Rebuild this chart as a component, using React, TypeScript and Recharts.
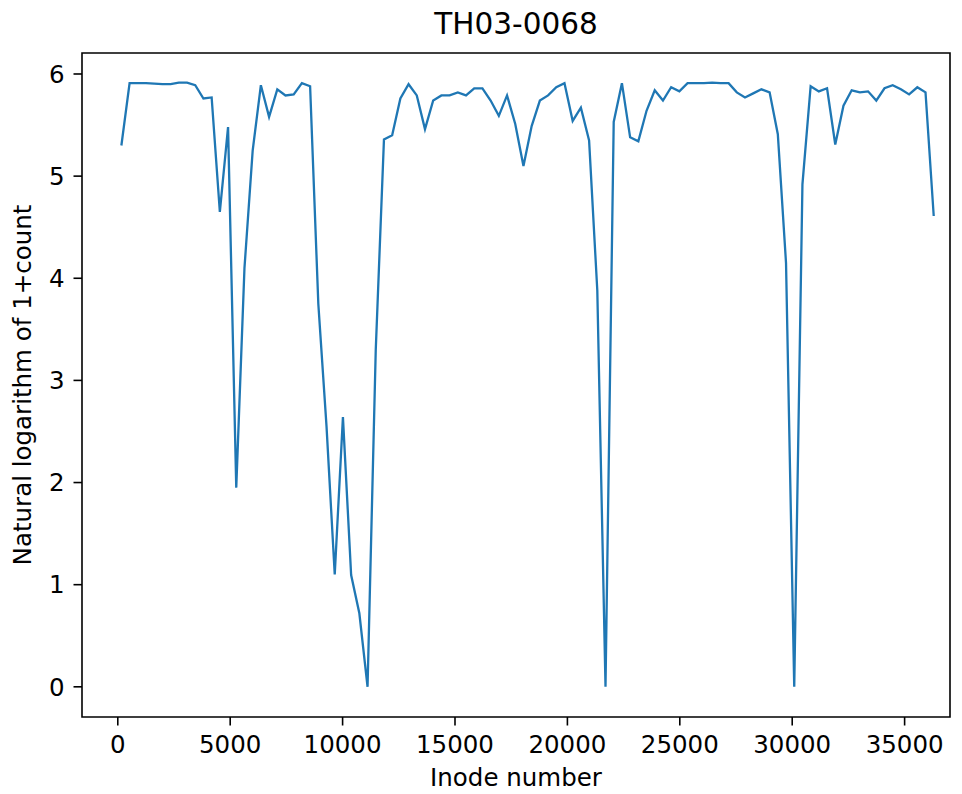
import React from "react";
import { LineChart, Line, XAxis, YAxis, ReferenceArea } from "recharts";

const inodes: number[] = [
  160, 525, 890, 1255, 1620, 1985, 2350, 2715, 3080, 3445,
  3810, 4175, 4540, 4905, 5270, 5635, 6000, 6365, 6730, 7095,
  7460, 7825, 8190, 8555, 8920, 9285, 9650, 10015, 10380, 10745,
  11110, 11475, 11840, 12205, 12570, 12935, 13300, 13665, 14030, 14395,
  14760, 15125, 15490, 15855, 16220, 16585, 16950, 17315, 17680, 18045,
  18410, 18775, 19140, 19505, 19870, 20235, 20600, 20965, 21330, 21695,
  22060, 22425, 22790, 23155, 23520, 23885, 24250, 24615, 24980, 25345,
  25710, 26075, 26440, 26805, 27170, 27535, 27900, 28265, 28630, 28995,
  29360, 29725, 30090, 30455, 30820, 31185, 31550, 31915, 32280, 32645,
  33010, 33375, 33740, 34105, 34470, 34835, 35200, 35565, 35930, 36295,
];

const logCounts: number[] = [
  5.3, 5.91, 5.91, 5.91, 5.905, 5.9, 5.9, 5.915, 5.915, 5.89,
  5.76, 5.77, 4.65, 5.48, 1.95, 4.1, 5.25, 5.89, 5.58, 5.85,
  5.79, 5.8, 5.91, 5.88, 3.75, 2.55, 1.1, 2.64, 1.095, 0.72,
  0.0, 3.3, 5.36, 5.4, 5.76, 5.9, 5.79, 5.46, 5.74, 5.79,
  5.79, 5.82, 5.79, 5.86, 5.86, 5.74, 5.59, 5.79, 5.51, 5.1,
  5.49, 5.74, 5.79, 5.87, 5.91, 5.54, 5.67, 5.35, 3.88, 0.0,
  5.53, 5.91, 5.38, 5.34, 5.64, 5.84, 5.74, 5.87, 5.83, 5.91,
  5.91, 5.91, 5.915, 5.91, 5.91, 5.82, 5.77, 5.81, 5.85, 5.82,
  5.41, 4.15, 0.0, 4.92, 5.88, 5.83, 5.86, 5.31, 5.69, 5.84,
  5.82, 5.83, 5.74, 5.86, 5.89, 5.85, 5.8, 5.87, 5.82, 4.61,
];

const xTicks: number[] = [0, 5000, 10000, 15000, 20000, 25000, 30000, 35000];
const yTicks: number[] = [0, 1, 2, 3, 4, 5, 6];

const title = "TH03-0068";
const xLabel = "Inode number";
const yLabel = "Natural logarithm of 1+count";

const data = inodes.map((x, i) => ({ inode: x, value: logCounts[i] }));

const X_DOMAIN: [number, number] = [-1592, 37019];
const Y_DOMAIN: [number, number] = [-0.2955, 6.2055];

const FONT = "'DejaVu Sans', sans-serif";
const tickStyle = { fill: "#000", fontSize: 24.5, fontFamily: FONT };

export default function App() {
  return (
    <div style={{ position: "absolute", left: 0, top: 0, width: 962, height: 794, background: "#fff" }}>
      <div
        style={{
          position: "absolute",
          left: 82,
          width: 868,
          top: 6,
          textAlign: "center",
          fontFamily: FONT,
          fontSize: 29.5,
          lineHeight: "36px",
          color: "#000",
        }}
      >
        {title}
      </div>
      <LineChart
        width={962}
        height={794}
        data={data}
        margin={{ top: 53, right: 12, bottom: 0, left: 0 }}
      >
        <XAxis
          dataKey="inode"
          type="number"
          domain={X_DOMAIN}
          allowDataOverflow
          ticks={xTicks}
          interval={0}
          height={77}
          tickSize={8.5}
          tickMargin={10}
          tick={tickStyle}
          stroke="#000"
          axisLine={false}
          tickLine={{ stroke: "#000", strokeWidth: 1.6 }}
          label={{
            value: xLabel,
            position: "insideBottom",
            offset: 8,
            style: { fill: "#000", fontSize: 24.5, fontFamily: FONT },
          }}
        />
        <YAxis
          type="number"
          domain={Y_DOMAIN}
          allowDataOverflow
          ticks={yTicks}
          interval={0}
          width={82}
          tickSize={8.5}
          tickMargin={9}
          tick={tickStyle}
          stroke="#000"
          axisLine={false}
          tickLine={{ stroke: "#000", strokeWidth: 1.6 }}
          label={{
            value: yLabel,
            angle: -90,
            position: "insideLeft",
            offset: 22,
            style: { fill: "#000", fontSize: 24.5, fontFamily: FONT, textAnchor: "middle" },
          }}
        />
        <ReferenceArea
          x1={X_DOMAIN[0]}
          x2={X_DOMAIN[1]}
          y1={Y_DOMAIN[0]}
          y2={Y_DOMAIN[1]}
          fill="none"
          fillOpacity={0}
          stroke="#000"
          strokeWidth={1.6}
          ifOverflow="visible"
        />
        <Line
          dataKey="value"
          type="linear"
          stroke="#1f77b4"
          strokeWidth={2.3}
          dot={false}
          activeDot={false}
          isAnimationActive={false}
        />
      </LineChart>
    </div>
  );
}
